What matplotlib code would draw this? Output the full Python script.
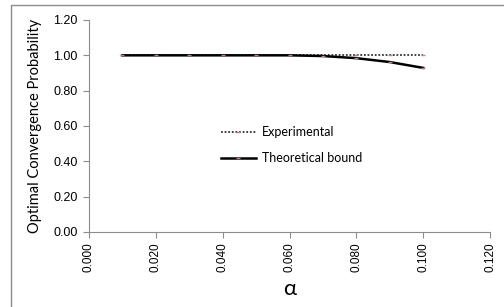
import matplotlib
matplotlib.use("Agg")
import matplotlib.pyplot as plt
from matplotlib.patches import Rectangle

plt.rcParams['font.family'] = ['Lato', 'DejaVu Sans']

alpha = [0.01, 0.02, 0.03, 0.04, 0.05, 0.06, 0.07, 0.08, 0.09, 0.10]
experimental = [1.0, 1.0, 1.0, 1.0, 1.0, 1.0, 1.0, 1.0, 1.0, 1.0]
theoretical = [1.0, 1.0, 1.0, 1.0, 1.0, 1.0, 0.996, 0.984, 0.962, 0.929]
xticks = [0.0, 0.02, 0.04, 0.06, 0.08, 0.10, 0.12]
yticks = [0.0, 0.2, 0.4, 0.6, 0.8, 1.0, 1.2]

fig = plt.figure(figsize=(5.04, 3.07), dpi=100)
fig.patches.append(Rectangle((11 / 504, -0.02), 1.0, 1 - 5 / 307 + 0.02,
                             transform=fig.transFigure, fill=False,
                             edgecolor='#8c8c8c', linewidth=1.0))
ax = fig.add_axes([89 / 504, 1 - 232 / 307, (490 - 89) / 504, (232 - 20) / 307])

ax.plot(alpha, experimental, color='#333333', linestyle=(0, (1, 1)), linewidth=1.3,
        marker='_', markersize=3, markeredgecolor='#c08080', label='Experimental')
ax.plot(alpha, theoretical, color='black', linewidth=1.8,
        marker='_', markersize=3, markeredgecolor='#c08080', label='Theoretical bound')

ax.set_xlim(0, 0.12)
ax.set_ylim(0, 1.2)
ax.set_xticks(xticks)
ax.set_xticklabels(['%.3f' % v for v in xticks], rotation=90, fontsize=8.5,
                   family='Liberation Sans')
ax.set_yticks(yticks)
ax.set_yticklabels(['%.2f' % v for v in yticks], fontsize=9,
                   family='Liberation Sans')

for s in ['top', 'right']:
    ax.spines[s].set_visible(False)
for s in ['left', 'bottom']:
    ax.spines[s].set_color('#8c8c8c')
ax.tick_params(colors='#8c8c8c', labelcolor='black', length=4, width=0.8)
ax.tick_params(axis='y', pad=4)

ax.set_ylabel('Optimal Convergence Probability', fontsize=10.5, labelpad=8)
ax.set_xlabel('α', fontsize=16, labelpad=5)

ax.legend(loc='center left', bbox_to_anchor=(0.3, 0.41), frameon=False,
          fontsize=9, handlelength=2.8, handletextpad=0.5, labelspacing=1.1)

fig.savefig('out.png', dpi=100)
